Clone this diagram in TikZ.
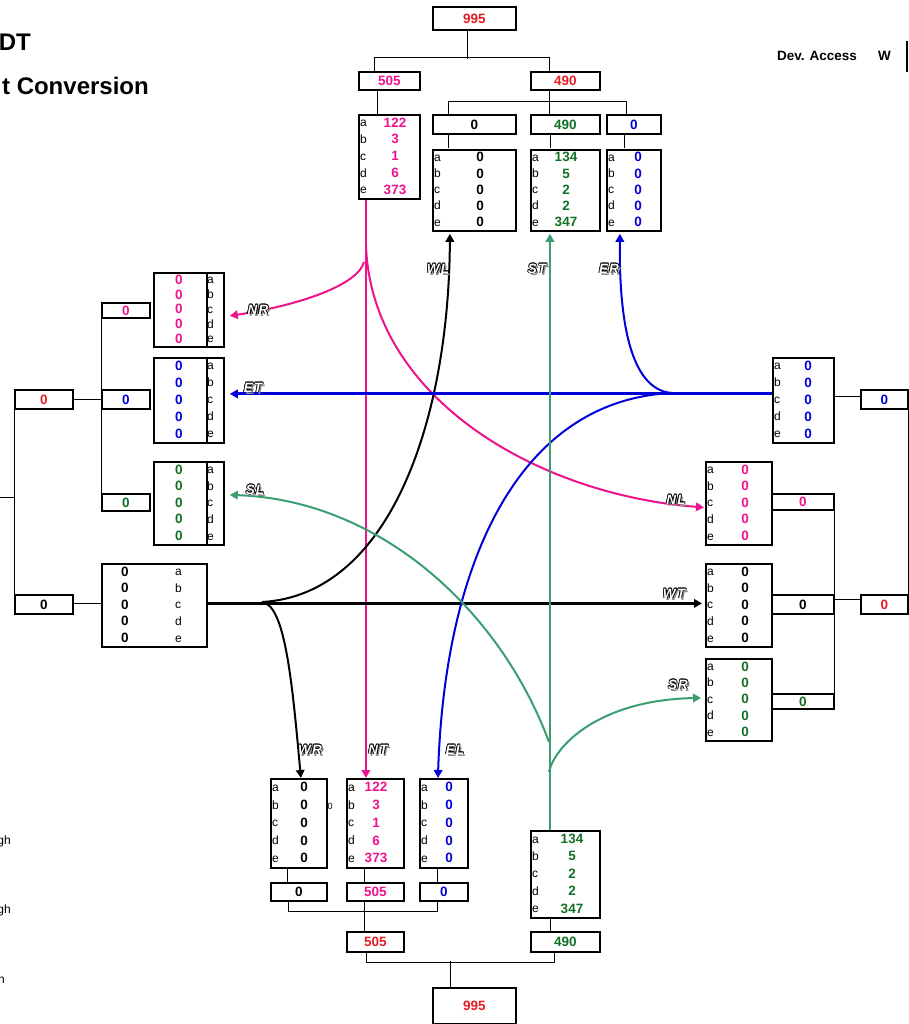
\documentclass[tikz,border=0pt]{standalone}
\usepackage{fontspec}
\setmainfont{Liberation Sans}
\newfontfamily\tagfont[LetterSpace=8]{Liberation Sans}
\usepackage{xcolor}
\usepackage{tikz}
\usetikzlibrary{positioning,arrows.meta,calc}

\definecolor{pinkflow}{RGB}{238,18,140}
\definecolor{redsum}{RGB}{228,28,36}
\definecolor{greentext}{RGB}{18,112,38}
\definecolor{greenflow}{RGB}{58,158,112}
\definecolor{blueflow}{RGB}{0,0,215}

\newcommand\valfont{\fontsize{13.5}{14}\selectfont\bfseries}
\newcommand\lettfont{\fontsize{12}{13}\selectfont}
\newcommand\titlefont{\fontsize{24}{26}\selectfont\bfseries}

% detail box: name, x1, y1, x2, y2, colour, counts, count x, letter x
\newcommand\cbox[9]{%
  \node[cnt, minimum width={#4-#2}, minimum height={#5-#3}, anchor=north west] (#1) at (#2,#3) {};
  \foreach \v [count=\i] in {#7} {
    \pgfmathsetmacro\yy{#3+(\i-0.5)*(#5-#3)/5}
    \node[lett, anchor=base west] (#1-l\i) at (#9,\yy+4.3) {\ifcase\i\or a\or b\or c\or d\or e\fi};
    \node[valu, text=#6, anchor=base] (#1-v\i) at (#8,\yy+4.8) {\v};
  }%
}
% total box: name, x1, y1, x2, y2, colour, text
\newcommand\tbox[7]{%
  \node[sumbox, minimum width={#4-#2}, minimum height={#5-#3}, text=#6] (#1) at (#2,#3) {#7};%
}
% hollow lettering with a drop shadow
\newcommand\hollow[1]{%
  \rlap{\kern2pt\raisebox{-2pt}{\textcolor{black!45}{#1}}}%
  \rlap{\kern0.8pt\textcolor{black}{#1}}%
  \rlap{\kern-0.8pt\textcolor{black}{#1}}%
  \rlap{\raisebox{0.8pt}{\textcolor{black}{#1}}}%
  \rlap{\raisebox{-0.8pt}{\textcolor{black}{#1}}}%
  \rlap{\kern0.55pt\raisebox{0.55pt}{\textcolor{black}{#1}}}%
  \rlap{\kern-0.55pt\raisebox{0.55pt}{\textcolor{black}{#1}}}%
  \rlap{\kern0.55pt\raisebox{-0.55pt}{\textcolor{black}{#1}}}%
  \rlap{\kern-0.55pt\raisebox{-0.55pt}{\textcolor{black}{#1}}}%
  \textcolor{white}{#1}%
}

\begin{document}
\begin{tikzpicture}[x=1pt, y=-1pt,
    cnt/.style={draw, line width=1.8pt, inner sep=0pt},
    sumbox/.style={draw, line width=1.8pt, inner sep=0pt, anchor=north west, font=\valfont},
    valu/.style={font=\valfont, inner sep=0pt},
    lett/.style={font=\lettfont, inner sep=0pt},
    tree/.style={line width=0.8pt},
    flow/.style={line width=2pt, -{Triangle[length=8pt, width=8.5pt]}},
    tagtext/.style={font=\tagfont\fontsize{13.5}{14}\selectfont\bfseries\itshape, inner sep=0pt},
]
    \useasboundingbox (0,0) rectangle (909,1024);

    \node[anchor=base east, inner sep=0pt, font=\titlefont] (ttl) at (31,51) {DT};
    \node[anchor=base east, inner sep=0pt, font=\titlefont] (sub) at (149,95) {t Conversion};
    \node[anchor=base east, inner sep=0pt, font=\valfont] (dev) at (857,61) {Dev. Access};
    \node[anchor=base west, inner sep=0pt, font=\valfont] (devw) at (878,61) {W};
    \draw[line width=2pt] (907,41) -- (907,72);
    \node[anchor=base east, inner sep=0pt, font=\lettfont] (cut1) at (11,844) {gh};
    \node[anchor=base east, inner sep=0pt, font=\lettfont] (cut2) at (11,913) {gh};
    \node[anchor=base east, inner sep=0pt, font=\lettfont] (cut3) at (5,983) {n};

    % north leg
    \tbox{ntop}{432}{6}{515}{29}{redsum}{995}
    \tbox{n505}{358}{71}{419}{89}{pinkflow}{505}
    \tbox{n490}{530}{71}{599}{89}{redsum}{490}
    \cbox{nin}{358}{114}{419}{198}{pinkflow}{122,3,1,6,373}{395}{360}
    \tbox{nw0}{432}{114}{515}{133}{black}{0}
    \tbox{ns490}{530}{114}{599}{133}{greentext}{490}
    \tbox{ne0}{606}{114}{660}{133}{blueflow}{0}
    \cbox{nwl}{432}{149}{515}{230}{black}{0,0,0,0,0}{480}{434}
    \cbox{nst}{530}{149}{599}{230}{greentext}{134,5,2,2,347}{566}{532}
    \cbox{ner}{606}{149}{660}{230}{blueflow}{0,0,0,0,0}{638}{608}
    \draw[tree] ([xshift=-7]ntop.south) -- ++(0,28);
    \draw[tree] ([xshift=-15.5]n505.north) -- ++(0,-14) -| ([xshift=-16.5]n490.north);
    \draw[tree] ([xshift=-12]n505.south) -- ([xshift=-12]nin.north);
    \draw[tree] ([xshift=-16.5]n490.south) -- ([xshift=-16.5]ns490.north);
    \draw[tree] ([xshift=-26]nw0.north) -- ++(0,-13) -| ([xshift=-8]ne0.north);
    \foreach \b/\s in {nw0/-26,ns490/-15.5,ne0/-10} \draw[tree] ([xshift=\s]\b.south) -- ++(0,13);

    % west leg
    \tbox{lnr}{101}{302}{149}{317}{pinkflow}{0}
    \tbox{let}{101}{389}{149}{408}{blueflow}{0}
    \tbox{lsl}{101}{493}{149}{510}{greentext}{0}
    \tbox{wsum}{14}{389}{72}{408}{redsum}{0}
    \tbox{win0}{14}{594}{72}{613}{black}{0}
    \cbox{nr}{153}{272}{223}{346}{pinkflow}{0,0,0,0,0}{179}{207}
    \cbox{et}{153}{357}{223}{442}{blueflow}{0,0,0,0,0}{179}{207}
    \cbox{sl}{153}{461}{223}{544}{greentext}{0,0,0,0,0}{179}{207}
    \cbox{wbig}{101}{563}{206}{646}{black}{0,0,0,0,0}{125}{175}
    \foreach \b in {nr,et,sl} \draw[line width=1.8pt] ([xshift=-18]\b.north east) -- ([xshift=-18]\b.south east);
    \coordinate (wlink) at (0,497);
    \draw[tree] (wsum.east) -- (let.west);
    \draw[tree] (lnr.north west) -- (lsl.south west);
    \draw[tree] (wsum.south west) -- (win0.north west);
    \draw[tree] (wlink) -- (wlink -| wsum.west);
    \draw[tree] ([yshift=1]win0.east) -- ([yshift=2]wbig.west);

    % east leg
    \cbox{ebox}{772}{357}{833}{442}{blueflow}{0,0,0,0,0}{808}{774}
    \tbox{ein0}{860}{389}{907}{408}{blueflow}{0}
    \cbox{nl}{705}{461}{771}{544}{pinkflow}{0,0,0,0,0}{745}{707}
    \tbox{rnl}{771}{493}{833}{509}{pinkflow}{0}
    \cbox{wt}{705}{563}{771}{646}{black}{0,0,0,0,0}{745}{707}
    \tbox{rwt}{771}{594}{833}{613}{black}{0}
    \tbox{esum}{860}{594}{907}{613}{redsum}{0}
    \cbox{sr}{705}{658}{771}{740}{greentext}{0,0,0,0,0}{745}{707}
    \tbox{rsr}{771}{693}{833}{708}{greentext}{0}
    \draw[tree] ([yshift=4]ebox.east) -- ([yshift=3]ein0.west);
    \draw[tree] (ein0.south east) -- (esum.north east);
    \draw[tree] (rnl.north east) -- (rsr.south east);
    \draw[tree] ([yshift=5]rwt.east) -- ([yshift=5]esum.west);

    % south leg
    \cbox{swr}{270}{778}{326}{867}{black}{0,0,0,0,0}{304}{272}
    \cbox{snt}{346}{778}{403}{867}{pinkflow}{122,3,1,6,373}{376}{348}
    \cbox{sel}{419}{778}{467}{867}{blueflow}{0,0,0,0,0}{449}{421}
    \node[font=\fontsize{9}{9}\selectfont, inner sep=0pt] (szero) at (330,806) {0};
    \tbox{swr0}{270}{882}{326}{900}{black}{0}
    \tbox{snt505}{346}{882}{403}{900}{pinkflow}{505}
    \tbox{sel0}{419}{882}{467}{900}{blueflow}{0}
    \cbox{sin}{530}{830}{599}{917}{greentext}{134,5,2,2,347}{572}{532}
    \tbox{ssum505}{346}{931}{403}{951}{redsum}{505}
    \tbox{s490}{530}{931}{599}{951}{greentext}{490}
    \tbox{sbot}{432}{987}{515}{1023}{redsum}{995}
    \foreach \a/\b/\s in {swr/swr0/-12,snt/snt505/-11.5,sel/sel0/-7} \draw[tree] ([xshift=\s]\a.south) -- ([xshift=\s]\b.north);
    \draw[tree] ([xshift=-11]swr0.south) -- ++(0,10) -| ([xshift=-7]sel0.south);
    \draw[tree] ([xshift=-11.5]snt505.south) -- ([xshift=-11.5]ssum505.north);
    \draw[tree] ([xshift=-15.5]sin.south) -- ([xshift=-15.5]s490.north);
    \draw[tree] ([xshift=-9.5]ssum505.south) -- ++(0,10) -| ([xshift=-11.5]s490.south);
    \draw[tree] ([xshift=-24.5]sbot.north) -- ++(0,-26);

    % turning movements
    \coordinate (nrb) at (364,262);
    \coordinate (nlb) at (366,246);
    \coordinate (wb) at (262,602);
    \coordinate (eb) at (672,393);
    \coordinate (srb) at (549,772);
    \coordinate (slb) at (549,742);

    \draw[flow, pinkflow, line width=2.5pt] ([xshift=-23.5]nin.south) -- ([xshift=-9.5]snt.north);
    \draw[flow, pinkflow] (nrb) .. controls (358,285) and (300,305) .. ([xshift=5,yshift=-6]nr.east);
    \draw[flow, pinkflow] (nlb) .. controls (372,400) and (540,495) .. ([xshift=-1,yshift=-4]nl.west);

    \draw[flow, line width=3pt] ([yshift=2]wbig.east) -- ([xshift=-3,yshift=2]wt.west);
    \draw[flow] (wb) .. controls (390,595) and (449,420) .. ([xshift=-24.5,yshift=-2]nwl.south);
    \draw[flow] (wb) .. controls (285,605) and (292,680) .. ([xshift=2]swr.north);

    \draw[flow, blueflow, line width=3pt] ([yshift=6.5]ebox.west) -- ([xshift=5,yshift=6.5]et.east);
    \draw[flow, blueflow] (eb) .. controls (630,390) and (619,320) .. ([xshift=-14,yshift=-2]ner.south);
    \draw[flow, blueflow] (eb) .. controls (520,400) and (445,560) .. ([xshift=-6]sel.north);

    \draw[flow, greenflow] ([xshift=-15.5]sin.north) -- ([xshift=-15.5,yshift=-2]nst.south);
    \draw[flow, greenflow] (srb) .. controls (555,745) and (600,700) .. ([xshift=-4,yshift=2]sr.west);
    \draw[flow, greenflow] (slb) .. controls (500,610) and (380,500) .. ([xshift=5,yshift=8.5]sl.east);

    \node[tagtext] (tNR) at (258,310) {\hollow{NR}};
    \node[tagtext] (tET) at (253,388) {\hollow{ET}};
    \node[tagtext] (tSL) at (255,490) {\hollow{SL}};
    \node[tagtext] (tWL) at (438,269) {\hollow{WL}};
    \node[tagtext] (tST) at (537,269) {\hollow{ST}};
    \node[tagtext] (tER) at (609,269) {\hollow{ER}};
    \node[tagtext] (tNL) at (676,500) {\hollow{NL}};
    \node[tagtext] (tWT) at (674,594) {\hollow{WT}};
    \node[tagtext] (tSR) at (678,685) {\hollow{SR}};
    \node[tagtext] (tWR) at (310,750) {\hollow{WR}};
    \node[tagtext] (tNT) at (378,750) {\hollow{NT}};
    \node[tagtext] (tEL) at (455,750) {\hollow{EL}};
\end{tikzpicture}
\end{document}
